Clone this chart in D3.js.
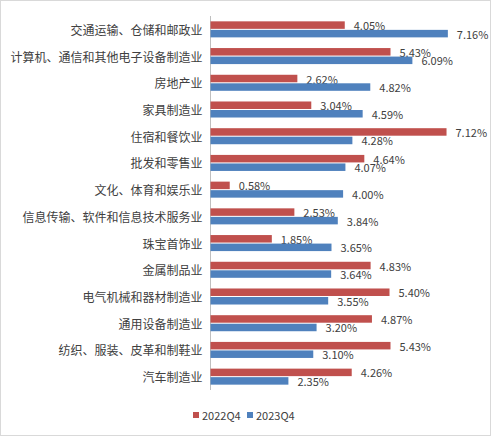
<!DOCTYPE html>
<html>
<head>
<meta charset="utf-8">
<script src="https://cdn.jsdelivr.net/npm/d3@7"></script>
<style>
  body { margin: 0; background: #fff; }
  text { font-family: "Noto Sans CJK SC", "Microsoft YaHei", sans-serif; fill: #404040; }
</style>
</head>
<body>
<div id="chart"></div>
<script>
const categories = ['交通运输、仓储和邮政业', '计算机、通信和其他电子设备制造业', '房地产业', '家具制造业',
  '住宿和餐饮业', '批发和零售业', '文化、体育和娱乐业', '信息传输、软件和信息技术服务业',
  '珠宝首饰业', '金属制品业', '电气机械和器材制造业', '通用设备制造业',
  '纺织、服装、皮革和制鞋业', '汽车制造业'];
const series = ['2022Q4', '2023Q4'];
const values2022 = [4.05, 5.43, 2.62, 3.04, 7.12, 4.64, 0.58, 2.53, 1.85, 4.83, 5.40, 4.87, 5.43, 4.26];
const values2023 = [7.16, 6.09, 4.82, 4.59, 4.28, 4.07, 4.00, 3.84, 3.65, 3.64, 3.55, 3.20, 3.10, 2.35];
const colors = ['#C0504D', '#4F81BD'];

const width = 491, height = 436;
const svg = d3.select('#chart').append('svg')
  .attr('width', width)
  .attr('height', height);

// outer border
svg.append('rect')
  .attr('x', 0.5).attr('y', 0.5)
  .attr('width', width - 1).attr('height', height - 1)
  .attr('fill', '#fff')
  .attr('stroke', '#d9d9d9');

const plotLeft = 210.5, plotTop = 16, plotBottom = 390;

const x = d3.scaleLinear().domain([0, 8]).range([plotLeft, plotLeft + 8 * 33.15]);
const y = d3.scaleBand().domain(categories).range([plotTop, plotBottom]).paddingInner(0.4).paddingOuter(0.2);
const ySub = d3.scaleBand().domain(series).range([0, y.bandwidth()]).paddingInner(0.12);

// axis line
svg.append('line')
  .attr('x1', plotLeft).attr('x2', plotLeft)
  .attr('y1', plotTop).attr('y2', plotBottom)
  .attr('stroke', '#bfbfbf');

// category labels
svg.append('g').selectAll('text')
  .data(categories)
  .join('text')
  .attr('x', plotLeft - 8)
  .attr('y', d => y(d) + y.bandwidth() / 2)
  .attr('text-anchor', 'end')
  .attr('dominant-baseline', 'central')
  .style('font-size', '12px')
  .text(d => d);

const data = [values2022, values2023];

data.forEach(function(vals, s) {
  const g = svg.append('g');
  g.selectAll('rect')
    .data(vals)
    .join('rect')
    .attr('x', x(0))
    .attr('y', (d, i) => y(categories[i]) + ySub(series[s]))
    .attr('width', d => x(d) - x(0))
    .attr('height', ySub.bandwidth())
    .attr('fill', colors[s]);

  g.selectAll('text')
    .data(vals)
    .join('text')
    .attr('x', d => x(d) + 9)
    .attr('y', (d, i) => y(categories[i]) + ySub(series[s]) + ySub.bandwidth() / 2)
    .attr('dominant-baseline', 'central')
    .style('font-size', '11px')
    .text(d => d.toFixed(2) + '%');
});

// legend
const legend = svg.append('g').attr('transform', 'translate(193,412)');
const legendX = [0, 54];
series.forEach(function(s, i) {
  legend.append('rect')
    .attr('x', legendX[i]).attr('y', 0)
    .attr('width', 6).attr('height', 6)
    .attr('fill', colors[i]);
  legend.append('text')
    .attr('x', legendX[i] + 9).attr('y', 3)
    .attr('dominant-baseline', 'central')
    .style('font-size', '11px')
    .text(s);
});
</script>
</body>
</html>
